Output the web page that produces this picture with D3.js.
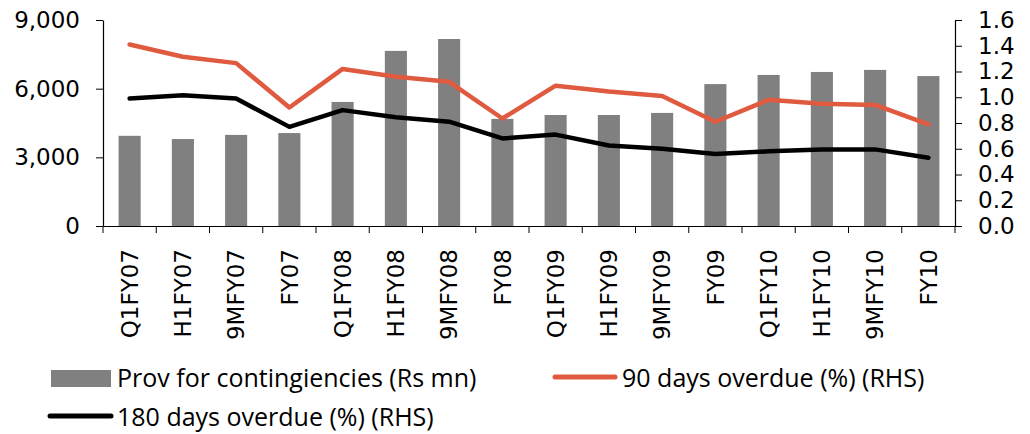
<!DOCTYPE html>
<html><head><meta charset="utf-8">
<script src="https://cdn.jsdelivr.net/npm/d3@7"></script>
<style>body{margin:0;background:#fff}svg{display:block}text{font-family:"DejaVu Sans",sans-serif;fill:#000}</style>
</head><body><svg id="c" width="1030" height="434"></svg>
<script>
const categories = ["Q1FY07","H1FY07","9MFY07","FY07","Q1FY08","H1FY08","9MFY08","FY08","Q1FY09","H1FY09","9MFY09","FY09","Q1FY10","H1FY10","9MFY10","FY10"];
const provisions = [3940,3800,3980,4060,5420,7650,8170,4680,4850,4850,4940,6200,6600,6730,6820,6550];
const overdue90 = [1.41,1.315,1.265,0.92,1.22,1.16,1.12,0.835,1.09,1.045,1.01,0.81,0.98,0.95,0.94,0.79];
const overdue180 = [0.99,1.015,0.99,0.77,0.90,0.845,0.81,0.68,0.71,0.625,0.60,0.56,0.58,0.595,0.595,0.53];
const leftTicks = [0,3000,6000,9000];
const rightTicks = [0,0.2,0.4,0.6,0.8,1.0,1.2,1.4,1.6];

const svg = d3.select("#c");
const L = 103, R = 955, T = 20, B = 226;
const x = d3.scaleBand().domain(categories).range([L, R]).paddingInner(0.585).paddingOuter(0.2925);
const xb = d3.scaleBand().domain(categories).range([L, R]);
const yL = d3.scaleLinear().domain([0, 9000]).range([B, T]);
const yR = d3.scaleLinear().domain([0, 1.6]).range([B, T]);

// bars
svg.append("g").selectAll("rect").data(provisions).join("rect")
  .attr("x", (d,i) => x(categories[i])).attr("width", x.bandwidth())
  .attr("y", d => yL(d)).attr("height", d => B - yL(d)).attr("fill", "#808080");

// lines
const line = y => d3.line().x((d,i) => xb(categories[i]) + xb.bandwidth()/2).y(d => y(d));
svg.append("path").datum(overdue90).attr("d", line(yR)).attr("fill","none").attr("stroke","#E05A40").attr("stroke-width",4.5).attr("stroke-linejoin","round").attr("stroke-linecap","round");
svg.append("path").datum(overdue180).attr("d", line(yR)).attr("fill","none").attr("stroke","#000").attr("stroke-width",4.5).attr("stroke-linejoin","round").attr("stroke-linecap","round");

// left axis
const gl = svg.append("g").attr("transform", `translate(${L},0)`)
  .call(d3.axisLeft(yL).tickValues(leftTicks).tickFormat(d3.format(",")).tickSizeInner(7).tickSizeOuter(0).tickPadding(16));
// right axis
const gr = svg.append("g").attr("transform", `translate(${R},0)`)
  .call(d3.axisRight(yR).tickValues(rightTicks).tickFormat(d3.format(".1f")).tickSizeInner(7).tickSizeOuter(0).tickPadding(16));
// x axis
const gx = svg.append("g").attr("transform", `translate(0,${B})`)
  .call(d3.axisBottom(xb).tickSizeInner(0).tickSizeOuter(0).tickPadding(0));
gx.selectAll(".tick line").remove();
const bounds = categories.map(c => xb(c)).concat([R]);
gx.selectAll(".bt").data(bounds).join("line").attr("class","bt")
  .attr("x1", d => d).attr("x2", d => d).attr("y1", 0).attr("y2", 7).attr("stroke","#000");
gx.selectAll(".tick text").attr("transform","rotate(-90)").attr("text-anchor","end")
  .attr("dy","0.36em").attr("x",-23).attr("y",0).style("font-size","23px");

[gl, gr, gx].forEach(g => {
  g.select(".domain").attr("stroke","#000").attr("stroke-width",1.2);
  g.selectAll(".tick line").attr("stroke","#000");
});
gl.selectAll(".tick text").style("font-size","23px");
gr.selectAll(".tick text").style("font-size","23px");

// legend
const lf = "'Open Sans', sans-serif";
const lg = svg.append("g");
lg.append("rect").attr("x",51).attr("y",370).attr("width",60).attr("height",17).attr("fill","#808080");
lg.append("text").attr("x",117).attr("y",387).style("font-size","25px").style("font-family",lf).text("Prov for contingiencies (Rs mn)");
lg.append("line").attr("x1",555).attr("x2",615).attr("y1",377).attr("y2",377).attr("stroke","#E05A40").attr("stroke-width",5).attr("stroke-linecap","round");
lg.append("text").attr("x",622).attr("y",387).style("font-size","25px").style("font-family",lf).text("90 days overdue (%) (RHS)");
lg.append("line").attr("x1",50).attr("x2",111).attr("y1",416).attr("y2",416).attr("stroke","#000").attr("stroke-width",5).attr("stroke-linecap","round");
lg.append("text").attr("x",117).attr("y",426).style("font-size","25px").style("font-family",lf).text("180 days overdue (%) (RHS)");
</script></body></html>
